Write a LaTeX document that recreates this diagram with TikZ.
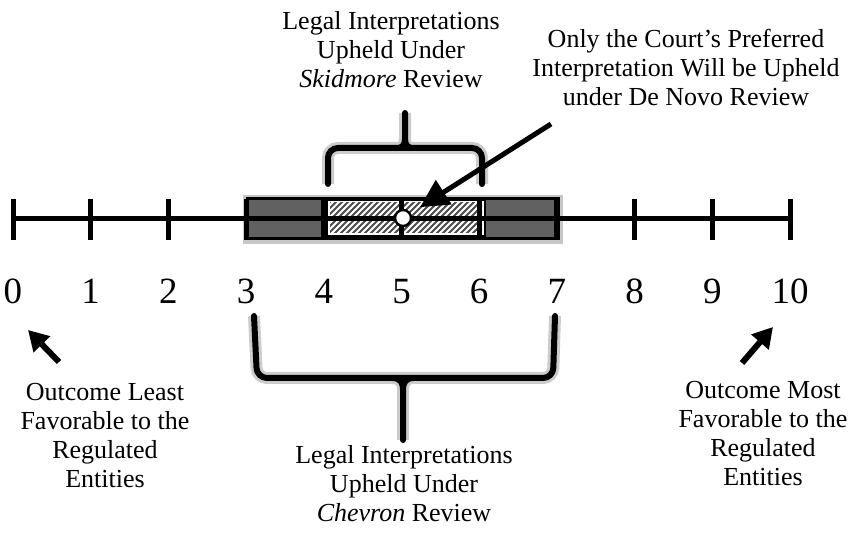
\documentclass[tikz,border=0pt]{standalone}
\usepackage{fontspec}
\setmainfont{Liberation Serif}
\usetikzlibrary{arrows.meta}
\tikzset{
  lbl/.style={align=center, inner sep=0pt, anchor=north, font=\fontsize{13}{14.5}\selectfont},
  num/.style={anchor=base, inner sep=0pt, font=\fontsize{18.5}{20}\selectfont},
  tickmark/.style={line width=2.5pt},
  brc/.style={line width=3pt, rounded corners=5pt, line cap=round, preaction={draw, black!20, line width=6pt}},
  bigarr/.style={line width=2.5pt, -{Triangle[length=14pt,width=14pt]}},
  smallarr/.style={line width=3pt, -{Triangle[length=10pt,width=11pt]}},
}
\begin{document}
\begin{tikzpicture}[x=0.5pt,y=-0.5pt]
\useasboundingbox (0,0) rectangle (868,533);
\node[lbl] (SKID) at (391,11) {Legal Interpretations\\Upheld Under\\\textit{Skidmore} Review};
\node[lbl] (DENOVO) at (686,29) {Only the Court's Preferred\\Interpretation Will be Upheld\\under De Novo Review};
\node[lbl] (LEAST) at (105,383) {Outcome Least\\Favorable to the\\Regulated\\Entities};
\node[lbl] (MOST) at (763,381) {Outcome Most\\Favorable to the\\Regulated\\Entities};
\node[lbl] (CHEV) at (404,445) {Legal Interpretations\\Upheld Under\\\textit{Chevron} Review};
% Chevron and Skidmore ranges
\fill [black!22] (243,195) rectangle (563,244);
\draw [line width=1.5pt, fill=black!62] (247,199) rectangle (558,239);
\draw [line width=1.2pt, fill=white] (327,200) rectangle (485,236);
\begin{scope}
\clip (330,203) rectangle (482,233);
\foreach \k in {0,...,38}
  \draw [line width=1pt, black!70] (280+6*\k,240) -- +(45,-45);
\end{scope}
% number line
\draw [line width=2.5pt] (13,219) -- (790,219);
\foreach \i in {0,...,10} {
  \draw [tickmark] (13+77.7*\i,199) -- (13+77.7*\i,240);
  \node[num] (n\i) at (13+77.7*\i,304) {\i};
}
\node (PREF) [circle, draw, fill=white, line width=1.2pt, minimum size=8pt, inner sep=0pt] at (403,218) {};
% braces
\draw [brc] (328,184) -- (328,148) -- (482,148) -- (482,184)
  (405,148) -- (405,113)
  (396,148) .. controls (403,148) and (405,145) .. (405,138)
  (414,148) .. controls (407,148) and (405,145) .. (405,138);
\draw [brc] (254,316) -- (257,378) -- (553,378) -- (555,316)
  (403,378) -- (403,440)
  (392,378) .. controls (400,378) and (403,382) .. (403,390)
  (414,378) .. controls (406,378) and (403,382) .. (403,390);
% arrows
\coordinate (ARRS) at (551,124);
\draw [bigarr, shorten >=5.5pt] (ARRS) -- (PREF);
\coordinate (LT) at (59,362);
\coordinate (LH) at (28,330);
\draw [smallarr] (LT) -- (LH);
\coordinate (RT) at (742,363);
\coordinate (RH) at (773,327);
\draw [smallarr] (RT) -- (RH);
\end{tikzpicture}
\end{document}
